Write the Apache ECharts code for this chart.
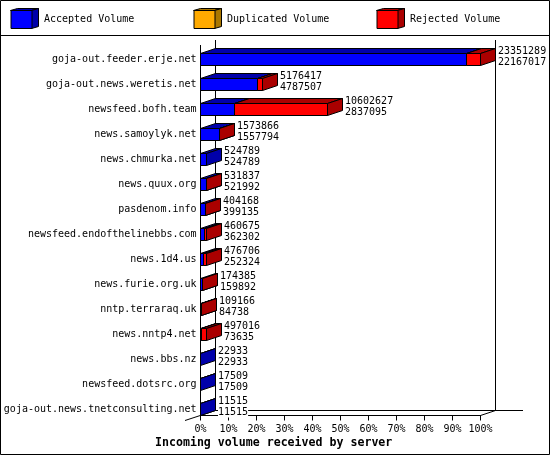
<!DOCTYPE html>
<html><head><meta charset="utf-8">
<style>html,body{margin:0;padding:0;background:#fff}#c{width:550px;height:455px}</style>
<script src="https://cdn.jsdelivr.net/npm/echarts@6/dist/echarts.min.js"></script>
</head><body><div id="c"></div>
<script>
const hosts = ["goja-out.feeder.erje.net","goja-out.news.weretis.net","newsfeed.bofh.team","news.samoylyk.net","news.chmurka.net","news.quux.org","pasdenom.info","newsfeed.endofthelinebbs.com","news.1d4.us","news.furie.org.uk","nntp.terraraq.uk","news.nntp4.net","news.bbs.nz","newsfeed.dotsrc.org","goja-out.news.tnetconsulting.net"];
const totalVolume = [23351289,5176417,10602627,1573866,524789,531837,404168,460675,476706,174385,109166,497016,22933,17509,11515];
const acceptedVolume = [22167017,4787507,2837095,1557794,524789,521992,399135,362302,252324,159892,84738,73635,22933,17509,11515];
const percentTicks = [0,10,20,30,40,50,60,70,80,90,100];

const FONT = '"DejaVu Sans Mono", monospace';
const maxTotal = Math.max.apply(null, totalVolume);
const pct = v => v / maxTotal * 100;
const DX = 15, DY = 5, HALF = 6;
const crisp = v => Math.floor(v) + 0.5;

function segment(fill, dark) {
  return function (params, api) {
    const a = api.coord([api.value(0), api.value(2)]);
    const b = api.coord([api.value(1), api.value(2)]);
    const x0 = crisp(a[0]), x1 = crisp(b[0]);
    const yT = crisp(a[1]) - HALF, yB = yT + 2 * HALF;
    const st = f => ({ fill: f, stroke: '#000', lineWidth: 1 });
    const poly = (pts, f) => ({ type: 'polygon', shape: { points: pts }, style: st(f) });
    const children = [
      poly([[x0, yT], [x1, yT], [x1 + DX, yT - DY], [x0 + DX, yT - DY]], dark),
      poly([[x1, yT], [x1 + DX, yT - DY], [x1 + DX, yB - DY], [x1, yB]], dark),
      poly([[x0, yT], [x1, yT], [x1, yB], [x0, yB]], fill)
    ];
    return { type: 'group', children };
  };
}
function labels(params, api) {
  const p = api.coord([api.value(0), api.value(3)]);
  const x = Math.floor(p[0]) + DX + 3, y = crisp(p[1]);
  const t = (s, yy) => ({ type: 'text', style: { x, y: yy, text: String(s), fill: '#000', font: '10px ' + FONT, textAlign: 'left', textVerticalAlign: 'middle', backgroundColor: '#fff' } });
  return { type: 'group', children: [t(api.value(1), y - 8), t(api.value(2), y + 3)] };
}

const accData = hosts.map((h, i) => [0, pct(acceptedVolume[i]), i]);
const rejData = hosts.map((h, i) => [pct(acceptedVolume[i]), pct(totalVolume[i]), i]).filter(d => d[1] > d[0]);
const lblData = hosts.map((h, i) => [pct(totalVolume[i]), totalVolume[i], acceptedVolume[i], i]);

const ln = (x1, y1, x2, y2) => ({ type: 'line', shape: { x1, y1, x2, y2 }, style: { stroke: '#000', lineWidth: 1 } });
const cubeSide = (x, dark) => ({ type: 'polygon', shape: { points: [[x, 10.5], [x + 21, 10.5], [x + 28, 8.5], [x + 7, 8.5]] }, style: { fill: dark, stroke: '#000', lineWidth: 1 } });
const cubeRight = (x, dark) => ({ type: 'polygon', shape: { points: [[x + 21, 10.5], [x + 28, 8.5], [x + 28, 26.5], [x + 21, 28.5]] }, style: { fill: dark, stroke: '#000', lineWidth: 1 } });
const cube = (x, dark) => [cubeSide(x, dark), cubeRight(x, dark)];

const legendCfg = (name, left) => ({
  data: [name], left, top: 10, itemWidth: 21, itemHeight: 18, itemGap: 0, selectedMode: false, padding: 0,
  icon: 'rect', itemStyle: { borderColor: '#000', borderWidth: 1 },
  textStyle: { fontFamily: FONT, fontSize: 10, color: '#000', padding: [2, 0, 0, 7] }
});

const chart = echarts.init(document.getElementById('c'), null, { renderer: 'canvas' });
chart.setOption({
  animation: false,
  backgroundColor: '#fff',
  title: { text: 'Incoming volume received by server', left: 155, top: 436.5, padding: 0,
    textStyle: { fontFamily: FONT, fontSize: 11.6, fontWeight: 'bold', color: '#000' } },
  legend: [legendCfg('Accepted Volume', 10.5), legendCfg('Duplicated Volume', 193.5), legendCfg('Rejected Volume', 376.5)],
  grid: { left: 200.5, width: 280, top: 47, height: 375 },
  xAxis: { type: 'value', min: percentTicks[0], max: percentTicks[percentTicks.length - 1], interval: 10, offset: -6.5,
    axisLine: { show: true, lineStyle: { color: '#000', width: 1 } },
    axisTick: { show: true, length: 5, lineStyle: { color: '#000', width: 1 } },
    splitLine: { show: false },
    axisLabel: { formatter: '{value}%', margin: 9, fontFamily: FONT, fontSize: 10, color: '#000' } },
  yAxis: { type: 'category', inverse: true, data: hosts,
    axisLine: { show: false }, axisTick: { show: false }, splitLine: { show: false },
    axisLabel: { interval: 0, margin: 4, fontFamily: FONT, fontSize: 10, color: '#000', padding: [3, 0, 0, 0] } },
  graphic: { elements: [
    { type: 'rect', shape: { x: 0.5, y: 0.5, width: 549, height: 454 }, style: { fill: 'none', stroke: '#000', lineWidth: 1 } },
    ln(0, 35.5, 550, 35.5),
    ln(200.5, 45, 200.5, 415.5), ln(215.5, 40, 215.5, 410.5), ln(495.5, 40, 495.5, 410.5),
    ln(215.5, 410.5, 523, 410.5),
    ln(185, 420.5, 215.5, 410.5), ln(480.5, 415.5, 495.5, 410.5)
  ].concat(cube(10.5, '#0000aa'), cube(193.5, '#aa7700'), cube(376.5, '#aa0000')).map(e => Object.assign(e, { z: 0 })) },
  series: [
    { name: 'Accepted Volume', type: 'custom', itemStyle: { color: '#0000ff' }, renderItem: segment('#0000ff', '#0000aa'), data: accData, z: 3 },
    { name: 'Duplicated Volume', type: 'custom', itemStyle: { color: '#ffaa00' }, renderItem: segment('#ffaa00', '#aa7700'), data: [], z: 3 },
    { name: 'Rejected Volume', type: 'custom', itemStyle: { color: '#ff0000' }, renderItem: segment('#ff0000', '#aa0000'), data: rejData, z: 4 },
    { name: 'Volumes', type: 'custom', renderItem: labels, data: lblData, z: 5 }
  ]
});
</script></body></html>
